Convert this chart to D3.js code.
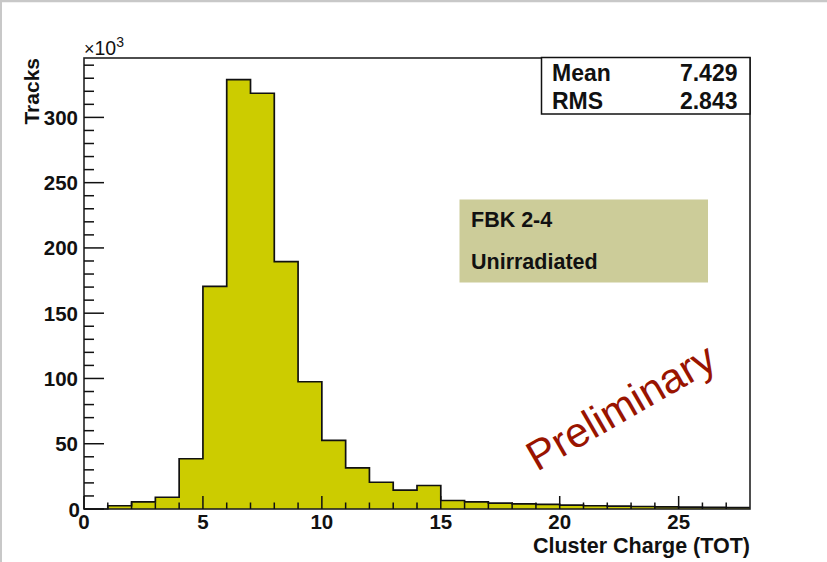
<!DOCTYPE html>
<html>
<head>
<meta charset="utf-8">
<script src="https://cdn.jsdelivr.net/npm/d3@7"></script>
<style>
  html, body { margin: 0; padding: 0; background: #fff; }
  svg { display: block; font-family: "Liberation Sans", Arial, Helvetica, sans-serif; }
</style>
</head>
<body>
<svg id="chart" width="827" height="562"></svg>
<script>
// ---- data (counts in units of 10^3) ----
const binEdges = [0,1,2,3,4,5,6,7,8,9,10,11,12,13,14,15,16,17,18,19,20,21,22,23,24,25,26,27,28];
const counts = [0, 2.5, 5.5, 9.0, 38.5, 170.5, 329, 318.5, 189.5, 97.5, 52.5, 31.5, 20.5, 14.5, 18.0,
                6.5, 5.5, 4.5, 4.0, 3.5, 3.0, 2.5, 2.2, 1.9, 1.6, 1.4, 1.2, 1.0];
const xMajorTicks = [0, 5, 10, 15, 20, 25];
const yMajorTicks = [0, 50, 100, 150, 200, 250, 300];
const statsLabels = ["Mean", "RMS"];
const statsValues = ["7.429", "2.843"];
const infoLines = ["FBK 2-4", "Unirradiated"];
const xTitle = "Cluster Charge (TOT)";
const yTitle = "Tracks";
const watermark = "Preliminary";

const svg = d3.select("#chart");
const L = 84, R = 750, T = 58, B = 509;
const x = d3.scaleLinear().domain([0, 28]).range([L, R]);
const y = d3.scaleLinear().domain([0, 345.5]).range([B, T]);

// canvas border (ROOT style)
svg.append("line").attr("x1", 0).attr("x2", 827).attr("y1", 1).attr("y2", 1)
   .attr("stroke", "#c8c8c8").attr("stroke-width", 2.5);
svg.append("line").attr("x1", 1).attr("x2", 1).attr("y1", 0).attr("y2", 562)
   .attr("stroke", "#c8c8c8").attr("stroke-width", 2);

// histogram
const bins = counts.map((c, i) => ({ x0: binEdges[i], x1: binEdges[i + 1], v: c }));
const stepPts = [];
bins.forEach(d => { stepPts.push([d.x0, d.v]); stepPts.push([d.x1, d.v]); });
const area = d3.area().x(d => x(d[0])).y0(y(0)).y1(d => y(d[1]));
svg.append("path").attr("d", area(stepPts)).attr("fill", "#cccc00");
const line = d3.line().x(d => x(d[0])).y(d => y(d[1]));
svg.append("path").attr("d", line(stepPts)).attr("fill", "none")
   .attr("stroke", "#111").attr("stroke-width", 1.7);

// frame
svg.append("rect").attr("x", L).attr("y", T).attr("width", R - L).attr("height", B - T)
   .attr("fill", "none").attr("stroke", "#222").attr("stroke-width", 1.6);

// y axis ticks
const yMinor = d3.range(0, 345, 10);
svg.append("g").selectAll("line").data(yMinor).join("line")
   .attr("x1", L).attr("x2", d => L + (d % 50 === 0 ? 20 : 10))
   .attr("y1", d => y(d)).attr("y2", d => y(d))
   .attr("stroke", "#111").attr("stroke-width", 1.5);
svg.append("g").selectAll("text").data(yMajorTicks).join("text")
   .attr("x", d => d === 0 ? 80 : 78).attr("y", d => y(d) + 7.5)
   .attr("text-anchor", "end").attr("font-size", 20.5).attr("font-weight", "bold")
   .attr("fill", "#111").text(d => d);

// x axis ticks
const xMinor = d3.range(0, 28, 1);
svg.append("g").selectAll("line").data(xMinor).join("line")
   .attr("x1", d => x(d)).attr("x2", d => x(d))
   .attr("y1", B).attr("y2", d => B - (d % 5 === 0 ? 13 : 6.5))
   .attr("stroke", "#111").attr("stroke-width", 1.5);
svg.append("g").selectAll("text").data(xMajorTicks).join("text")
   .attr("x", d => x(d)).attr("y", 529)
   .attr("text-anchor", "middle").attr("font-size", 20.5).attr("font-weight", "bold")
   .attr("fill", "#111").text(d => d);

// axis titles
svg.append("text").attr("x", R).attr("y", 553).attr("text-anchor", "end")
   .attr("font-size", 21.5).attr("font-weight", "bold").attr("fill", "#111").text(xTitle);
svg.append("text").attr("transform", `translate(39,${T}) rotate(-90)`).attr("text-anchor", "end")
   .attr("font-size", 21).attr("font-weight", "bold").attr("fill", "#111").text(yTitle);

// exponent label
const ex = svg.append("text").attr("x", L).attr("y", 55).attr("font-size", 19.5).attr("fill", "#111");
ex.append("tspan").attr("font-size", 18).text("\u00d7");
ex.append("tspan").text("10");
ex.append("tspan").attr("dy", -8).attr("font-size", 14).text("3");

// stats box
svg.append("rect").attr("x", 541.5).attr("y", 57.5).attr("width", 208.5).attr("height", 56.5)
   .attr("fill", "#fff").attr("stroke", "#111").attr("stroke-width", 1.5);
statsLabels.forEach((s, i) => {
  svg.append("text").attr("x", 552).attr("y", 81 + i * 28).attr("font-size", 23)
     .attr("font-weight", "bold").attr("fill", "#111").text(s);
  svg.append("text").attr("x", 737.5).attr("y", 81 + i * 28).attr("font-size", 23)
     .attr("text-anchor", "end").attr("font-weight", "bold").attr("fill", "#111").text(statsValues[i]);
});

// info box
svg.append("rect").attr("x", 459.5).attr("y", 199.5).attr("width", 248.5).attr("height", 83)
   .attr("fill", "#cccc99");
infoLines.forEach((s, i) => {
  svg.append("text").attr("x", 471).attr("y", 227 + i * 41.5).attr("font-size", 21.5)
     .attr("font-weight", "bold").attr("fill", "#111").text(s);
});

// watermark
svg.append("text").attr("transform", "translate(537,472) rotate(-30)")
   .attr("font-size", 42).attr("fill", "#991400").text(watermark);
</script>
</body>
</html>
